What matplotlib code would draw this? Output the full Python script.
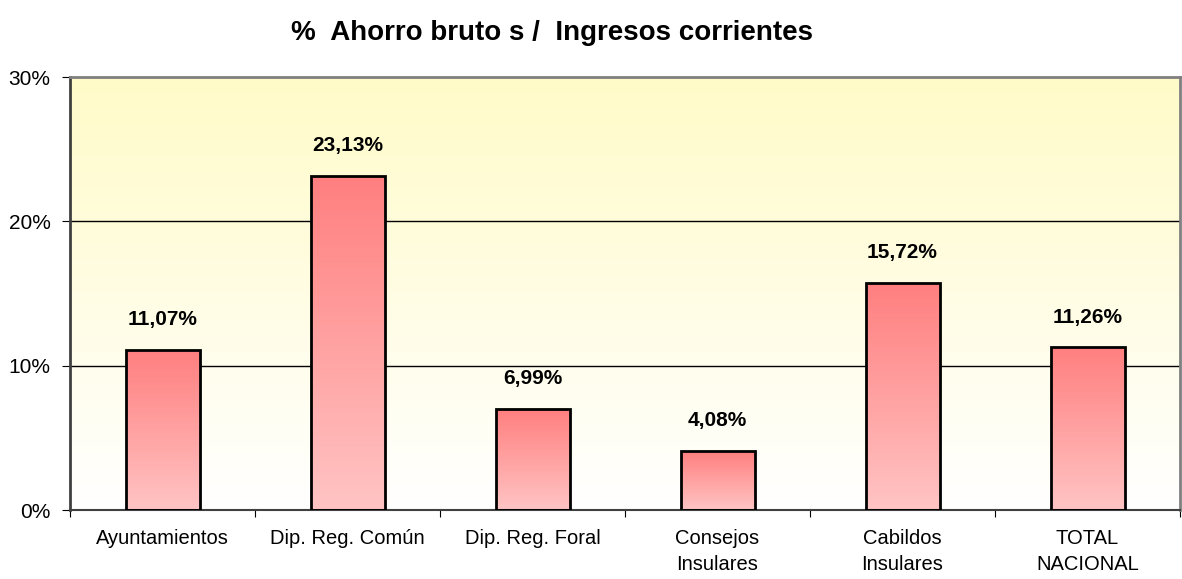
import matplotlib
matplotlib.use("Agg")
import matplotlib.pyplot as plt
from matplotlib.colors import LinearSegmentedColormap
import numpy as np

plt.rcParams['font.family'] = ['Liberation Sans', 'DejaVu Sans']

# data
categorias = ["Ayuntamientos", "Dip. Reg. Común", "Dip. Reg. Foral",
              "Consejos\nInsulares", "Cabildos\nInsulares", "TOTAL\nNACIONAL"]
valores = [11.07, 23.13, 6.99, 4.08, 15.72, 11.26]
etiquetas = ["11,07%", "23,13%", "6,99%", "4,08%", "15,72%", "11,26%"]
yticks = [0, 10, 20, 30]
ytick_labels = ["0%", "10%", "20%", "30%"]

fig = plt.figure(figsize=(11.82, 5.79), dpi=100)
ax = fig.add_axes([70/1182, 1 - 510/579, 1110/1182, 433/579])

x = np.arange(len(categorias))
ax.set_xlim(-0.5, len(categorias) - 0.5)
ax.set_ylim(0, 30)

# fondo degradado amarillo -> blanco
bg_cmap = LinearSegmentedColormap.from_list("bg", ["#ffffff", "#fffbc8"])
grad = np.linspace(0, 1, 256).reshape(-1, 1)
ax.imshow(grad, extent=(-0.5, len(categorias) - 0.5, 0, 30), origin="lower",
          aspect="auto", cmap=bg_cmap, zorder=0)

for yv in [10, 20]:
    ax.axhline(yv, color="black", lw=1, zorder=1)

# barras con degradado
bar_cmap = LinearSegmentedColormap.from_list("bar", ["#ffc4c4", "#ff7f7f"])
ancho = 0.4
bars = ax.bar(x, valores, width=ancho, facecolor="none", edgecolor="black",
              linewidth=2, zorder=3)
for b in bars:
    x0 = b.get_x()
    h = b.get_height()
    ax.imshow(grad, extent=(x0, x0 + ancho, 0, h), origin="lower",
              aspect="auto", cmap=bar_cmap, zorder=2)

for xi, v, t in zip(x, valores, etiquetas):
    ax.text(xi, v + 2.1, t, ha="center", va="center", fontsize=15,
            fontweight="bold", zorder=4)

ax.set_xlim(-0.5, len(categorias) - 0.5)
ax.set_ylim(0, 30)
ax.set_xticks(np.arange(len(categorias) + 1) - 0.5, minor=False)
ax.set_xticklabels([])
ax.set_xticks(x, minor=True)
ax.set_xticklabels(categorias, minor=True, fontsize=14.5, linespacing=1.45)
ax.tick_params(axis="x", which="minor", length=0, pad=14)
ax.tick_params(axis="x", which="major", length=5, direction="out", color="black")
ax.set_yticks(yticks)
ax.set_yticklabels(ytick_labels, fontsize=15)
ax.tick_params(axis="y", length=6, direction="out", color="black", pad=8)

ax.spines["top"].set_color("#808080")
ax.spines["top"].set_linewidth(2)
ax.spines["right"].set_color("#808080")
ax.spines["right"].set_linewidth(2)
ax.spines["left"].set_color("#404040")
ax.spines["left"].set_linewidth(2)
ax.spines["bottom"].set_color("#404040")
ax.spines["bottom"].set_linewidth(1.5)

fig.text(552/1182, 1 - 33/579, "%  Ahorro bruto s /  Ingresos corrientes",
         ha="center", va="center", fontsize=20, fontweight="bold")

fig.savefig("out.png", dpi=100)
